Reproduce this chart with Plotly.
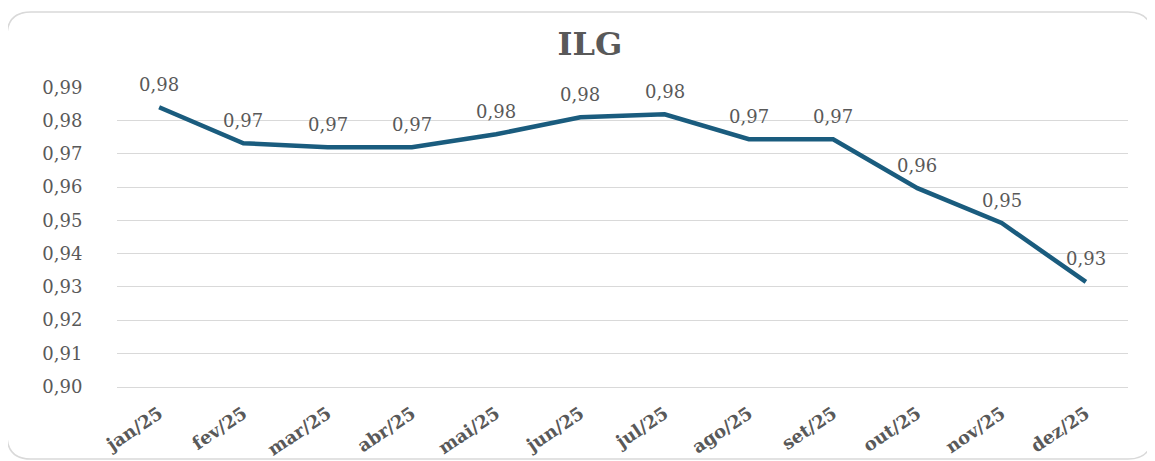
import plotly.graph_objects as go

months = ["jan/25", "fev/25", "mar/25", "abr/25", "mai/25", "jun/25",
          "jul/25", "ago/25", "set/25", "out/25", "nov/25", "dez/25"]
ilg = [0.984, 0.9732, 0.972, 0.972, 0.9759, 0.981,
       0.9819, 0.9744, 0.9744, 0.9597, 0.9492, 0.9315]
y_ticks = [0.90, 0.91, 0.92, 0.93, 0.94, 0.95, 0.96, 0.97, 0.98, 0.99]

W, H = 1155, 461
OFF = 8  # page body margin of the html page
# target plot area in screen pixels
PL, PR, PT, PB = 117, 1128, 87, 387
L = PL - OFF
T = PT - OFF
pw, ph = PR - PL, PB - PT
R = W - L - pw
B = H - T - ph

FONT = "DejaVu Serif"
GRAY = "#595959"
LINE = "#1a5c7e"

fig = go.Figure()
fig.add_trace(go.Scatter(x=months, y=ilg, mode="lines",
                         line=dict(color=LINE, width=4.5), hoverinfo="x+y"))

for m, v in zip(months, ilg):
    fig.add_annotation(x=m, y=v, text=f"{v:.2f}".replace(".", ","),
                       showarrow=False, yshift=23, yanchor="middle",
                       font=dict(family=FONT, size=18, color=GRAY))

# rounded frame, screen pixels -> paper coordinates
def px(x):
    return (x - PL) / pw
def py(y):
    return (PB - y) / ph

x0, x1, y0, y1, r = 7, 1152, 12, 459, 24
path = (f"M {px(x0 + r)},{py(y0)} L {px(x1 - r)},{py(y0)} "
        f"Q {px(x1)},{py(y0)} {px(x1)},{py(y0 + r)} "
        f"L {px(x1)},{py(y1 - r)} Q {px(x1)},{py(y1)} {px(x1 - r)},{py(y1)} "
        f"L {px(x0 + r)},{py(y1)} Q {px(x0)},{py(y1)} {px(x0)},{py(y1 - r)} "
        f"L {px(x0)},{py(y0 + r)} Q {px(x0)},{py(y0)} {px(x0 + r)},{py(y0)} Z")
fig.add_shape(type="path", path=path, xref="paper", yref="paper",
              line=dict(color="#d9d9d9", width=1.5), layer="below")

fig.update_layout(
    width=W, height=H,
    margin=dict(l=L, r=R, t=T, b=B, autoexpand=False),
    paper_bgcolor="white", plot_bgcolor="white",
    separators=", ",
    showlegend=False,
    title=dict(text="<b>ILG</b>", x=(590 - OFF) / W, xanchor="center",
               y=1 - (44 - OFF) / H, yanchor="middle", automargin=False,
               font=dict(family=FONT, size=32, color=GRAY)),
    xaxis=dict(type="category", range=[-0.5, 11.5],
               showgrid=False, zeroline=False,
               showline=True, linecolor="#d9d9d9", linewidth=1.2,
               automargin=False,
               tickangle=-34, ticks="outside", ticklen=8,
               tickcolor="rgba(0,0,0,0)",
               tickfont=dict(family=FONT, size=18, color=GRAY, weight="bold")),
    yaxis=dict(range=[0.8999, 0.9901], tickvals=y_ticks, tickformat=".2f",
               showgrid=True, gridcolor="#d9d9d9", gridwidth=1.2,
               zeroline=False, showline=False, automargin=False,
               ticks="outside", ticklen=30, tickcolor="rgba(0,0,0,0)",
               tickfont=dict(family=FONT, size=18, color=GRAY)),
)

fig.write_html("out.html")
